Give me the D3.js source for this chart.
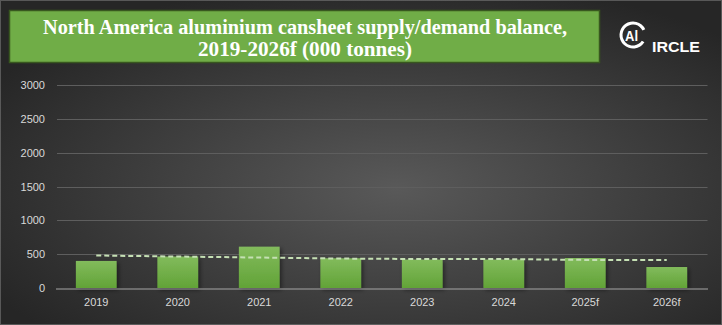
<!DOCTYPE html>
<html><head><meta charset="utf-8">
<script src="https://cdn.jsdelivr.net/npm/d3@7"></script>
<style>html,body{margin:0;padding:0;background:#333;}svg{display:block;}</style>
</head><body>
<script>
const categories = ["2019","2020","2021","2022","2023","2024","2025f","2026f"];
const balanceBars = [400, 465, 611, 439, 420, 420, 443, 310];
const balanceLine = [480, 465, 450, 435, 428, 428, 415, 413];
const yTicks = [0, 500, 1000, 1500, 2000, 2500, 3000];
const titleLines = ["North America aluminium cansheet supply/demand balance,", "2019-2026f (000 tonnes)"];

const W = 722, H = 325;
const svg = d3.select("body").append("svg").attr("width", W).attr("height", H);
const defs = svg.append("defs");

const bg = defs.append("radialGradient").attr("id","bg").attr("cx","55%").attr("cy","58%").attr("r","65%");
bg.append("stop").attr("offset","0%").attr("stop-color","#595959");
bg.append("stop").attr("offset","100%").attr("stop-color","#262626");

const barG = defs.append("linearGradient").attr("id","barG").attr("x1",0).attr("y1",0).attr("x2",0).attr("y2",1);
barG.append("stop").attr("offset","0%").attr("stop-color","#82bb5c");
barG.append("stop").attr("offset","100%").attr("stop-color","#62a337");

const sh = defs.append("filter").attr("id","sh").attr("x","-20%").attr("y","-20%").attr("width","150%").attr("height","150%");
sh.append("feDropShadow").attr("dx",2).attr("dy",2).attr("stdDeviation",2).attr("flood-color","#000").attr("flood-opacity",0.45);

svg.append("rect").attr("width",W).attr("height",H).attr("fill","url(#bg)");
svg.append("rect").attr("x",0.5).attr("y",0.5).attr("width",W-1).attr("height",H-1).attr("fill","none").attr("stroke","#8a8a8a").attr("stroke-width",1).attr("opacity",0.5);

// Title box
svg.append("rect").attr("x",9.5).attr("y",10.5).attr("width",590).attr("height",52)
  .attr("fill","#70ad47").attr("stroke","#38571f").attr("stroke-width",1.5);
const tl = svg.append("g").attr("font-family","'Liberation Serif', 'DejaVu Serif', serif").attr("font-weight","bold")
  .attr("fill","#ffffff").attr("font-size",20).attr("text-anchor","middle");
tl.append("text").attr("x",305).attr("y",34).attr("textLength",524).attr("lengthAdjust","spacingAndGlyphs").text(titleLines[0]);
tl.append("text").attr("x",305).attr("y",56).attr("textLength",214).attr("lengthAdjust","spacingAndGlyphs").text(titleLines[1]);

// Logo
const logo = svg.append("g");
const arc = d3.arc().innerRadius(10.5).outerRadius(13.5).startAngle(0.68*Math.PI).endAngle(2.36*Math.PI);
logo.append("path").attr("d",arc()).attr("transform","translate(633,35)").attr("fill","#ffffff");
logo.append("text").attr("x",631.5).attr("y",40.5).attr("text-anchor","middle").attr("font-family","'Liberation Sans', Arial, sans-serif")
  .attr("font-weight","bold").attr("font-size",15).attr("fill","#fff").attr("textLength",13).attr("lengthAdjust","spacingAndGlyphs").text("Al");
logo.append("text").attr("x",652).attr("y",52).attr("font-family","'Liberation Sans', Arial, sans-serif")
  .attr("font-weight","bold").attr("font-size",14).attr("fill","#fff").attr("textLength",48).attr("lengthAdjust","spacingAndGlyphs").text("IRCLE");

// Scales
const x = d3.scaleBand().domain(categories).range([55.5, 707.5]).paddingInner(0.5).paddingOuter(0.25);
const y = d3.scaleLinear().domain([0, 3000]).range([288, 85]);

// gridlines
const grid = svg.append("g");
grid.selectAll("line").data(yTicks.filter(d => d > 0)).join("line")
  .attr("x1",57).attr("x2",707.5).attr("y1",d => Math.round(y(d))+0.5).attr("y2",d => Math.round(y(d))+0.5)
  .attr("stroke","#5e5e5e").attr("stroke-width",1);

// y labels
const yAxis = d3.axisLeft(y).tickValues(yTicks).tickSize(0).tickPadding(0).tickFormat(d3.format("d"));
const ya = svg.append("g").attr("transform","translate(45,0)").call(yAxis);
ya.select(".domain").remove();
ya.selectAll("text").attr("font-family","'Liberation Sans', Arial, sans-serif").attr("font-size",11).attr("fill","#d9d9d9");

// bars
svg.append("g").selectAll("rect").data(categories).join("rect")
  .attr("x", (d) => x(d)).attr("width", x.bandwidth())
  .attr("y", (d,i) => y(balanceBars[i])).attr("height", (d,i) => y(0) - y(balanceBars[i]))
  .attr("fill","url(#barG)").attr("filter","url(#sh)");

// x axis
const xAxis = d3.axisBottom(x).tickSize(0).tickPadding(10);
const xa = svg.append("g").attr("transform","translate(0,288.5)").call(xAxis);
xa.select(".domain").attr("stroke","#a6a6a6").attr("stroke-width",1);
xa.selectAll("text").attr("font-family","'Liberation Sans', Arial, sans-serif").attr("font-size",11).attr("fill","#d9d9d9");

// dashed line
const line = d3.line().x((d,i) => x(categories[i]) + x.bandwidth()/2).y(d => y(d));
svg.append("path").datum(balanceLine).attr("d", line).attr("fill","none")
  .attr("stroke","#c5e0b4").attr("stroke-width",2).attr("stroke-dasharray","5,3");
</script>
</body></html>
